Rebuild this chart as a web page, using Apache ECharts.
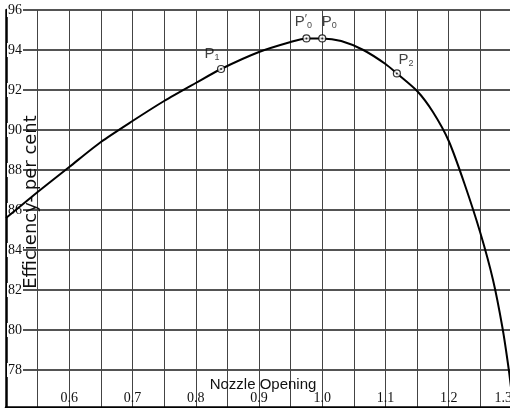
<!DOCTYPE html>
<html>
<head>
<meta charset="utf-8">
<script src="https://cdn.jsdelivr.net/npm/echarts@6/dist/echarts.min.js"></script>
<style>
  html, body { margin: 0; padding: 0; background: #fff; }
  #chart { width: 510px; height: 408px; }
</style>
</head>
<body>
<div id="chart"></div>
<script>
// Nozzle opening vs. efficiency curve
const nozzleOpening = [0.5, 0.55, 0.6, 0.65, 0.7, 0.75, 0.8, 0.84, 0.9, 0.95, 0.975, 1.0, 1.03, 1.065, 1.1, 1.118, 1.15, 1.175, 1.2, 1.225, 1.25, 1.27, 1.285, 1.295, 1.3];
const efficiency   = [85.6, 86.9, 88.15, 89.4, 90.45, 91.45, 92.35, 93.05, 93.9, 94.4, 94.58, 94.58, 94.45, 94.0, 93.3, 92.83, 91.95, 90.9, 89.45, 87.3, 84.85, 82.5, 80.1, 78.0, 76.7];

// Marked operating points
const pointNames = ['P1', "P'0", 'P0', 'P2'];
const pointX = [0.84, 0.975, 1.0, 1.118];
const pointY = [93.05, 94.58, 94.58, 92.83];

// Axis ticks
const xTickLabels = [0.6, 0.7, 0.8, 0.9, 1.0, 1.1, 1.2, 1.3];
const yTickLabels = [78, 80, 82, 84, 86, 88, 90, 92, 94, 96];

const labelRich = {
  p: { fontFamily: 'Liberation Sans', fontSize: 15, color: '#111' },
  s: { fontFamily: 'Liberation Sans', fontSize: 9, color: '#111', padding: [8, 0, 0, 0] },
  q: { fontFamily: 'Liberation Sans', fontSize: 12, color: '#111', padding: [0, 0, 4, 0] }
};
const labelText = {
  'P1': '{p|P}{s|1}',
  "P'0": '{p|P}{q|′}{s|0}',
  'P0': '{p|P}{s|0}',
  'P2': '{p|P}{s|2}'
};
const labelOffset = {
  'P1': [-9, 2],
  "P'0": [-3, 1],
  'P0': [7, 1],
  'P2': [9, 4]
};

const curve = nozzleOpening.map((x, i) => [x, efficiency[i]]);
const points = pointX.map((x, i) => ({
  value: [x, pointY[i]],
  label: {
    show: true,
    position: 'top',
    offset: labelOffset[pointNames[i]],
    formatter: labelText[pointNames[i]],
    rich: labelRich
  }
}));
const dots = pointX.map((x, i) => [x, pointY[i]]);

const chart = echarts.init(document.getElementById('chart'), null, { renderer: 'canvas' });
chart.setOption({
  animation: false,
  backgroundColor: '#fff',
  grid: { left: 6, right: -2, top: 10, bottom: 1, containLabel: false, outerBoundsMode: 'none' },
  xAxis: {
    type: 'value',
    min: 0.5,
    max: 1.3,
    interval: 0.05,
    name: 'Nozzle Opening',
    nameLocation: 'middle',
    nameGap: -30,
    nameMoveOverlap: false,
    nameTextStyle: { fontFamily: 'Liberation Sans', fontSize: 15, color: '#111', padding: [0, 0, 0, 8] },
    axisLine: { show: true, lineStyle: { color: '#000', width: 2.5 } },
    axisTick: { show: false },
    axisLabel: {
      inside: true,
      margin: 2,
      customValues: xTickLabels,
      alignMaxLabel: 'right',
      formatter: v => v.toFixed(1),
      fontFamily: 'Liberation Serif',
      fontSize: 14,
      color: '#111'
    },
    splitLine: { show: true, lineStyle: { color: '#444', width: 1 } }
  },
  yAxis: {
    type: 'value',
    min: 76.15,
    max: 96,
    name: 'Efficiency- per cent',
    nameLocation: 'middle',
    nameRotate: 90,
    nameGap: -34,
    nameMoveOverlap: false,
    nameTextStyle: { fontFamily: 'DejaVu Sans', fontSize: 18, color: '#111', padding: [0, 0, 0, 13] },
    axisLine: { show: true, lineStyle: { color: '#000', width: 2.5 } },
    axisTick: { show: false, customValues: yTickLabels },
    axisLabel: {
      inside: true,
      margin: 1,
      customValues: yTickLabels,
      fontFamily: 'Liberation Serif',
      fontSize: 14,
      color: '#111',
      backgroundColor: '#fff',
      padding: [0, 1, 0, 1]
    },
    splitLine: { show: true, lineStyle: { color: '#1a1a1a', width: 1.6 } }
  },
  series: [
    {
      type: 'line',
      data: curve,
      smooth: 0.25,
      symbol: 'none',
      lineStyle: { color: '#000', width: 2 },
      z: 3
    },
    {
      type: 'scatter',
      data: points,
      symbol: 'circle',
      symbolSize: 7,
      itemStyle: { color: '#fff', borderColor: '#000', borderWidth: 1.2 },
      z: 4
    },
    {
      type: 'scatter',
      data: dots,
      symbol: 'circle',
      symbolSize: 2,
      itemStyle: { color: '#000' },
      silent: true,
      z: 5
    }
  ]
});
</script>
</body>
</html>
